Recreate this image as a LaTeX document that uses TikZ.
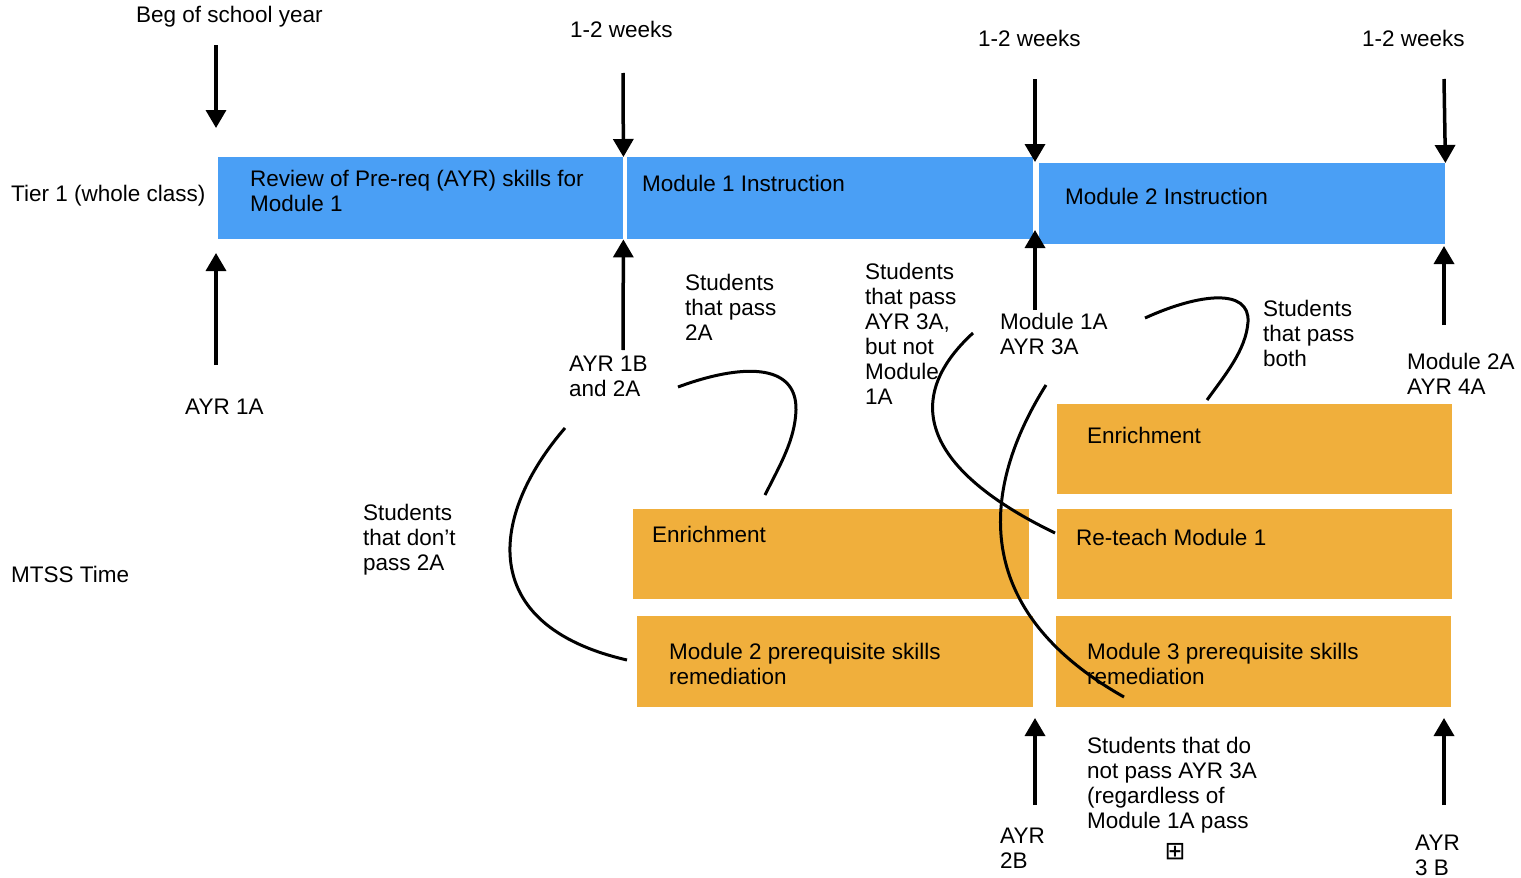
\documentclass[tikz,border=0pt]{standalone}
\usepackage{fontspec}
\setmainfont{Liberation Sans}
\newfontfamily\symbolfont{DejaVu Sans}
\usepackage{xcolor}
\usetikzlibrary{arrows.meta}
\definecolor{tierblue}{RGB}{74,159,245}
\definecolor{mtssorange}{RGB}{240,175,60}
\tikzstyle{node:tier}=[rectangle,fill=tierblue,anchor=north west,inner sep=0pt]
\tikzstyle{node:mtss}=[rectangle,fill=mtssorange,anchor=north west,inner sep=0pt]
\tikzstyle{node:label}=[anchor=west,align=left,inner sep=0pt,font=\fontsize{22.5}{25}\selectfont]
\tikzstyle{draw:arrow}=[-{Triangle[width=20pt,length=18pt]},line width=3.5pt]
\tikzstyle{draw:curve}=[line width=3pt]

\begin{document}
\begin{tikzpicture}[x=1pt, y=-1pt]
        \useasboundingbox (0,0) rectangle (1521,878);

        % Tier 1 bars
        \node[node:tier, minimum width=405pt, minimum height=82pt] (review) at (218,157) {};
        \node[node:tier, minimum width=406pt, minimum height=82pt] (mod1) at (627,157) {};
        \node[node:tier, minimum width=406pt, minimum height=81pt] (mod2) at (1039,163) {};

        % MTSS boxes
        \node[node:mtss, minimum width=396pt, minimum height=90pt] (enrich1) at (633,509) {};
        \node[node:mtss, minimum width=396pt, minimum height=91pt] (remed2) at (637,616) {};
        \node[node:mtss, minimum width=395pt, minimum height=90pt] (enrich2) at (1057,404) {};
        \node[node:mtss, minimum width=395pt, minimum height=90pt] (reteach) at (1057,509) {};
        \node[node:mtss, minimum width=395pt, minimum height=91pt] (remed3) at (1056,616) {};

        % Box texts
        \node[node:label] (review-txt) at (250,190.5) {Review of Pre-req (AYR) skills for\\Module 1};
        \node[node:label] (mod1-txt) at (642,183) {Module 1 Instruction};
        \node[node:label] (mod2-txt) at (1065,196) {Module 2 Instruction};
        \node[node:label] (enrich1-txt) at (652,534) {Enrichment};
        \node[node:label] (remed2-txt) at (669,663.5) {Module 2 prerequisite skills\\remediation};
        \node[node:label] (enrich2-txt) at (1087,435) {Enrichment};
        \node[node:label] (reteach-txt) at (1076,537) {Re-teach Module 1};
        \node[node:label] (remed3-txt) at (1087,663.5) {Module 3 prerequisite skills\\remediation};

        % Row labels
        \node[node:label] (tier) at (11,196) {Tier 1 (whole class)};
        \node[node:label] (mtss) at (11,574) {MTSS Time};

        % Time labels
        \node[node:label] (beg) at (136,17) {Beg of school year};
        \node[node:label] (week1) at (570,29) {1-2 weeks};
        \node[node:label] (week2) at (978,38) {1-2 weeks};
        \node[node:label] (week3) at (1362,38) {1-2 weeks};

        % Assessment labels
        \node[node:label] (ayr1a) at (185,407) {AYR 1A};
        \node[node:label] (ayr1b) at (569,376.5) {AYR 1B\\and 2A};
        \node[node:label] (mod1a) at (1000,333.5) {Module 1A\\AYR 3A};
        \node[node:label] (mod2a) at (1407,373.5) {Module 2A\\AYR 4A};
        \node[node:label] (ayr2b) at (1000,848.5) {AYR\\2B};
        \node[node:label] (ayr3b) at (1415,855.5) {AYR\\3 B};

        % Student group labels
        \node[node:label] (pass2a) at (685,307) {Students\\that pass\\2A};
        \node[node:label] (fail2a) at (363,540) {Students\\that don’t\\pass 2A};
        \node[node:label] (pass3a) at (865,334) {Students\\that pass\\AYR 3A,\\but not\\Module\\1A};
        \node[node:label] (passboth) at (1263,333) {Students\\that pass\\both};
        \node[node:label] (fail3a) at (1087,785.5) {Students that do\\not pass AYR 3A\\(regardless of\\Module 1A pass};
        \node[inner sep=0pt, font=\symbolfont\fontsize{25}{25}\selectfont] (expand) at (1175,852) {⊞};

        % Arrow ends
        \coordinate (beg-s) at (216,45);
        \coordinate (beg-e) at (216,128);
        \coordinate (week1-s) at (623,73);
        \coordinate (week2-s) at (1035,79);
        \coordinate (week2-e) at (1035,162);
        \coordinate (week3-s) at (1444,79);
        \coordinate (ayr1a-s) at (216,365);
        \coordinate (ayr1a-e) at (216,253);
        \coordinate (ayr1b-s) at (623,350);
        \coordinate (mod1a-s) at (1035,310);
        \coordinate (mod1a-e) at (1035,230);
        \coordinate (mod2a-s) at (1444,325);
        \coordinate (mod2a-e) at (1444,246);
        \coordinate (ayr2b-s) at (1035,805);
        \coordinate (ayr2b-e) at (1035,718);
        \coordinate (ayr3b-s) at (1444,805);
        \coordinate (ayr3b-e) at (1444,718);

        % Arrows down
        \draw[draw:arrow] (beg-s) -- (beg-e);
        \draw[draw:arrow] (week1-s) -- (review.north east);
        \draw[draw:arrow] (week2-s) -- (week2-e);
        \draw[draw:arrow] (week3-s) -- (mod2.north east);

        % Arrows up
        \draw[draw:arrow] (ayr1a-s) -- (ayr1a-e);
        \draw[draw:arrow] (ayr1b-s) -- (review.south east);
        \draw[draw:arrow] (mod1a-s) -- (mod1a-e);
        \draw[draw:arrow] (mod2a-s) -- (mod2a-e);
        \draw[draw:arrow] (ayr2b-s) -- (ayr2b-e);
        \draw[draw:arrow] (ayr3b-s) -- (ayr3b-e);

        % Curve ends
        \coordinate (fail2a-s) at (565,428);
        \coordinate (fail2a-e) at (627,660);
        \coordinate (pass2a-s) at (678,387);
        \coordinate (pass2a-e) at (765,495);
        \coordinate (pass3a-s) at (973,333);
        \coordinate (pass3a-e) at (1055,533);
        \coordinate (fail3a-s) at (1046,385);
        \coordinate (fail3a-e) at (1124,697);
        \coordinate (passboth-s) at (1145,318);
        \coordinate (passboth-e) at (1207,400);

        % Curves
        \draw[draw:curve] (fail2a-s) .. controls (490,515) and (475,625) .. (fail2a-e);
        \draw[draw:curve] (pass2a-s) .. controls (740,364) and (797,362) .. (796,410) .. controls (795,440) and (780,465) .. (pass2a-e);
        \draw[draw:curve] (pass3a-s) .. controls (900,400) and (925,470) .. (pass3a-e);
        \draw[draw:curve] (fail3a-s) .. controls (980,490) and (970,610) .. (fail3a-e);
        \draw[draw:curve] (passboth-s) .. controls (1200,293) and (1250,288) .. (1248,322) .. controls (1246,350) and (1225,375) .. (passboth-e);

    \end{tikzpicture}
\end{document}
